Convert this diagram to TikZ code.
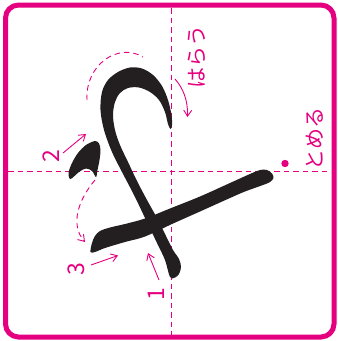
\documentclass[tikz,border=0pt]{standalone}
\usepackage{fontspec}
\usepackage{xcolor}
\usepackage{tikz}
\usetikzlibrary{arrows.meta,calc}

\newfontfamily\jpfont{Noto Sans CJK JP}
\definecolor{guidepink}{HTML}{E5007F}
\definecolor{inkblack}{HTML}{231F20}

\tikzset{
  guideline/.style={draw=guidepink, line width=1pt, dash pattern=on 5.5pt off 4pt},
  hint/.style={draw=guidepink, line width=0.9pt, -{Straight Barb[length=6pt,width=8pt]}},
  pinklabel/.style={text=guidepink, inner sep=0pt, rotate=90}
}

\begin{document}
\begin{tikzpicture}[x=1pt,y=-1pt]
\useasboundingbox (0,0) rectangle (338,341);

% Frame
\draw[draw=guidepink, line width=5pt, rounded corners=13pt] (5.5,5) rectangle (334,337);

% Guide lines
\draw[guideline] (171.5,8) -- (171.5,335);
\draw[guideline] (8,171) -- (331,171);

% Stroke 1
\fill[inkblack] plot[smooth cycle, tension=0.55] coordinates {
  (170,277) (165,260) (157,243) (146,220) (134,195) (122,172) (112,152)
  (104,130) (100.5,110) (102,92) (108,80) (118,72) (130,67.5) (142,68.5)
  (153,75) (162,86) (168,100) (171.5,115) (172,125) (170.5,129)
  (168,124) (165,112) (159,100) (150,92) (139,87.5) (128,88) (120,93)
  (115,102) (113,115) (115,130) (120,145) (128,162) (137,181) (147,200)
  (157,218) (166,236) (173,250) (179,259) (181,267) (179,274) (175,277.5)};

% Stroke 2
\fill[inkblack] plot[smooth cycle, tension=0.55] coordinates {
  (95,141) (99,143.5) (100.5,150) (99.5,160) (97.5,170) (96,177)
  (92,171) (86,168.5) (79,172) (70.5,179) (68.5,173) (72,163)
  (78,153) (86,145)};

% Stroke 3
\fill[inkblack] plot[smooth cycle, tension=0.55] coordinates {
  (90.5,252) (92,243) (95,236) (100,231) (110,227.5) (125,224) (145,218.5)
  (170,208.5) (200,196.5) (230,183) (250,174) (260,170) (267,170)
  (272,173.5) (273.5,178) (270,182) (263,185) (245,191.5) (230,198)
  (200,211.5) (172,224) (145,236.5) (125,242) (105,248) (95,252)};

% Stop dot
\fill[guidepink] (285,163.5) circle (3.7);

% Moves between strokes
\draw[guideline, line width=0.9pt] (87,100) .. controls (85,65) and (118,42) .. (143,57);
\draw[guideline, line width=0.9pt, -{Straight Barb[length=6pt,width=8pt]}] (95,180) .. controls (78,200) and (70,225) .. (85,242);
\draw[hint] (175,79) .. controls (183,88) and (188,100) .. (187.5,117);

% Start arrows
\draw[hint] (159,280) -- (148,253);
\draw[hint] (63,153) -- (86,134);
\draw[hint] (91,265) -- (118,255.5);

% Labels
\node[pinklabel, font=\jpfont\fontsize{23}{23}\selectfont] (num1) at (156.5,294) {1};
\node[pinklabel, font=\jpfont\fontsize{23}{23}\selectfont] (num2) at (51.5,156.5) {2};
\node[pinklabel, font=\jpfont\fontsize{23}{23}\selectfont] (num3) at (76.5,269) {3};
\node[pinklabel, font=\jpfont\fontsize{21}{21}\selectfont] (harau) at (196.5,57) {はらう};
\node[pinklabel, font=\jpfont\fontsize{21}{21}\selectfont] (tomeru) at (315,138.5) {とめる};
\end{tikzpicture}
\end{document}
